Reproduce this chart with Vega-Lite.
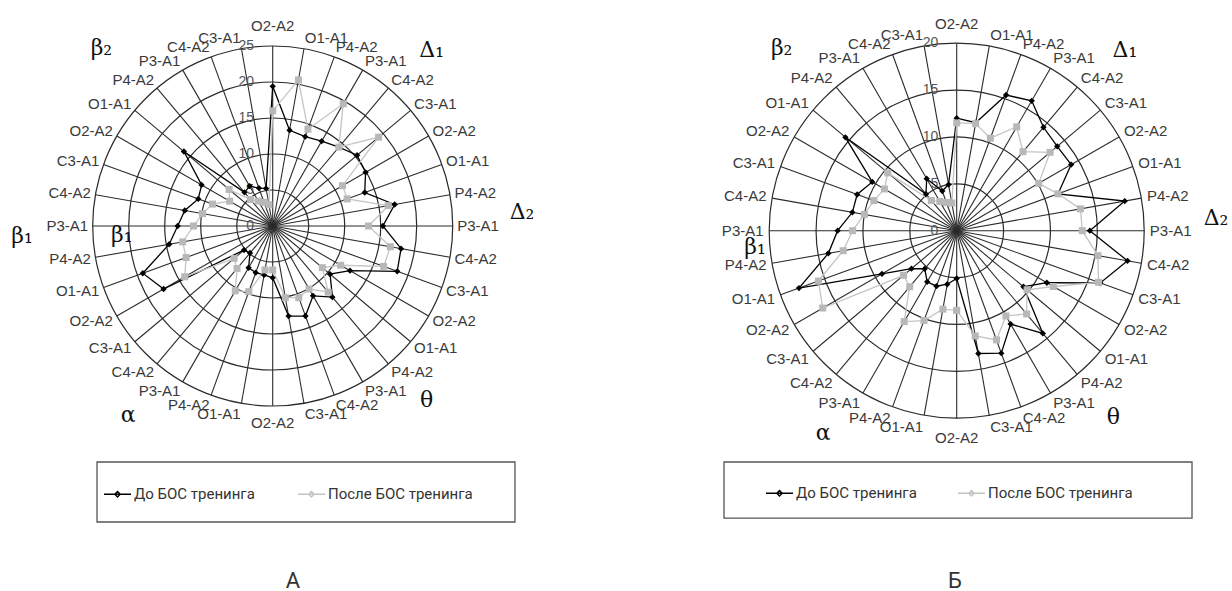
{
"$schema":"https://vega.github.io/schema/vega-lite/v6.json",
"background":"white",
"padding":0,
"spacing":0,
"config":{"view":{"stroke":null},"concat":{"spacing":0}},
"datasets":{
"spk":[{"i":0,"lab":"O2-A2"},{"i":1,"lab":"O1-A1"},{"i":2,"lab":"P4-A2"},{"i":3,"lab":"P3-A1"},{"i":4,"lab":"C4-A2"},{"i":5,"lab":"C3-A1"},{"i":6,"lab":"O2-A2"},{"i":7,"lab":"O1-A1"},{"i":8,"lab":"P4-A2"},{"i":9,"lab":"P3-A1"},{"i":10,"lab":"C4-A2"},{"i":11,"lab":"C3-A1"},{"i":12,"lab":"O2-A2"},{"i":13,"lab":"O1-A1"},{"i":14,"lab":"P4-A2"},{"i":15,"lab":"P3-A1"},{"i":16,"lab":"C4-A2"},{"i":17,"lab":"C3-A1"},{"i":18,"lab":"O2-A2"},{"i":19,"lab":"O1-A1"},{"i":20,"lab":"P4-A2"},{"i":21,"lab":"P3-A1"},{"i":22,"lab":"C4-A2"},{"i":23,"lab":"C3-A1"},{"i":24,"lab":"O2-A2"},{"i":25,"lab":"O1-A1"},{"i":26,"lab":"P4-A2"},{"i":27,"lab":"P3-A1"},{"i":28,"lab":"C4-A2"},{"i":29,"lab":"C3-A1"},{"i":30,"lab":"O2-A2"},{"i":31,"lab":"O1-A1"},{"i":32,"lab":"P4-A2"},{"i":33,"lab":"P3-A1"},{"i":34,"lab":"C4-A2"},{"i":35,"lab":"C3-A1"}],
"A":[{"i":0,"До БОС тренинга":19.4,"После БОС тренинга":16.0},{"i":1,"До БОС тренинга":13.5,"После БОС тренинга":20.6},{"i":2,"До БОС тренинга":13.2,"После БОС тренинга":14.3},{"i":3,"До БОС тренинга":13.6,"После БОС тренинга":19.6},{"i":4,"До БОС тренинга":14.3,"После БОС тренинга":14.3},{"i":5,"До БОС тренинга":15.3,"После БОС тренинга":19.2},{"i":6,"До БОС тренинга":14.9,"После БОС тренинга":11.2},{"i":7,"До БОС тренинга":13.6,"После БОС тренинга":11.0},{"i":8,"До БОС тренинга":17.2,"После БОС тренинга":16.3},{"i":9,"До БОС тренинга":15.3,"После БОС тренинга":13.3},{"i":10,"До БОС тренинга":18.1,"После БОС тренинга":16.6},{"i":11,"До БОС тренинга":18.4,"После БОС тренинга":16.4},{"i":12,"До БОС тренинга":12.4,"После БОС тренинга":10.9},{"i":13,"До БОС тренинга":10.4,"После БОС тренинга":9.0},{"i":14,"До БОС тренинга":12.9,"После БОС тренинга":12.0},{"i":15,"До БОС тренинга":11.2,"После БОС тренинга":10.1},{"i":16,"До БОС тренинга":13.3,"После БОС тренинга":10.6},{"i":17,"До БОС тренинга":12.7,"После БОС тренинга":10.1},{"i":18,"До БОС тренинга":7.2,"После БОС тренинга":6.1},{"i":19,"До БОС тренинга":6.9,"После БОС тренинга":6.2},{"i":20,"До БОС тренинга":6.9,"После БОС тренинга":9.7},{"i":21,"До БОС тренинга":6.7,"После БОС тренинга":10.4},{"i":22,"До БОС тренинга":4.9,"После БОС тренинга":7.7},{"i":23,"До БОС тренинга":5.2,"После БОС тренинга":7.0},{"i":24,"До БОС тренинга":17.5,"После БОС тренинга":14.1},{"i":25,"До БОС тренинга":19.2,"После БОС тренинга":12.8},{"i":26,"До БОС тренинга":14.6,"После БОС тренинга":12.7},{"i":27,"До БОС тренинга":13.2,"После БОС тренинга":11.0},{"i":28,"До БОС тренинга":12.4,"После БОС тренинга":9.9},{"i":29,"До БОС тренинга":11.0,"После БОС тренинга":8.9},{"i":30,"До БОС тренинга":11.4,"После БОС тренинга":6.9},{"i":31,"До БОС тренинга":16.1,"После БОС тренинга":7.9},{"i":32,"До БОС тренинга":6.1,"После БОС тренинга":4.8},{"i":33,"До БОС тренинга":6.4,"После БОС тренинга":4.0},{"i":34,"До БОС тренинга":5.6,"После БОС тренинга":3.5},{"i":35,"До БОС тренинга":5.3,"После БОС тренинга":3.0},{"i":36,"До БОС тренинга":19.4,"После БОС тренинга":16.0}],
"B":[{"i":0,"До БОС тренинга":12.0,"После БОС тренинга":11.5},{"i":1,"До БОС тренинга":11.7,"После БОС тренинга":11.6},{"i":2,"До БОС тренинга":15.4,"После БОС тренинга":10.5},{"i":3,"До БОС тренинга":16.0,"После БОС тренинга":12.8},{"i":4,"До БОС тренинга":14.4,"После БОС тренинга":11.0},{"i":5,"До БОС тренинга":14.0,"После БОС тренинга":13.0},{"i":6,"До БОС тренинга":14.1,"После БОС тренинга":10.1},{"i":7,"До БОС тренинга":11.5,"После БОС тренинга":11.5},{"i":8,"До БОС тренинга":18.2,"После БОС тренинга":13.4},{"i":9,"До БОС тренинга":14.2,"После БОС тренинга":13.4},{"i":10,"До БОС тренинга":18.5,"После БОС тренинга":15.3},{"i":11,"До БОС тренинга":16.3,"После БОС тренинга":16.1},{"i":12,"До БОС тренинга":11.1,"После БОС тренинга":11.9},{"i":13,"До БОС тренинга":9.3,"После БОС тренинга":9.8},{"i":14,"До БОС тренинга":14.3,"После БОС тренинга":11.6},{"i":15,"До БОС тренинга":11.5,"После БОС тренинга":10.5},{"i":16,"До БОС тренинга":13.9,"После БОС тренинга":12.4},{"i":17,"До БОС тренинга":13.3,"После БОС тренинга":11.4},{"i":18,"До БОС тренинга":5.1,"После БОС тренинга":8.5},{"i":19,"До БОС тренинга":5.8,"После БОС тренинга":8.5},{"i":20,"До БОС тренинга":6.3,"После БОС тренинга":10.2},{"i":21,"До БОС тренинга":6.3,"После БОС тренинга":11.2},{"i":22,"До БОС тренинга":5.3,"После БОС тренинга":7.8},{"i":23,"До БОС тренинга":6.3,"После БОС тренинга":7.4},{"i":24,"До БОС тренинга":9.2,"После БОС тренинга":16.5},{"i":25,"До БОС тренинга":17.9,"После БОС тренинга":15.7},{"i":26,"До БОС тренинга":13.9,"После БОС тренинга":12.3},{"i":27,"До БОС тренинга":12.7,"После БОС тренинга":11.1},{"i":28,"До БОС тренинга":11.3,"После БОС тренинга":10.0},{"i":29,"До БОС тренинга":11.3,"После БОС тренинга":9.4},{"i":30,"До БОС тренинга":10.4,"После БОС тренинга":8.9},{"i":31,"До БОС тренинга":15.5,"После БОС тренинга":9.6},{"i":32,"До БОС тренинга":5.1,"После БОС тренинга":4.2},{"i":33,"До БОС тренинга":6.4,"После БОС тренинга":3.6},{"i":34,"До БОС тренинга":4.5,"После БОС тренинга":3.2},{"i":35,"До БОС тренинга":5.0,"После БОС тренинга":3.0},{"i":36,"До БОС тренинга":12.0,"После БОС тренинга":11.5}]
},
"resolve":{"scale":{"color":"independent","stroke":"independent","shape":"independent","size":"independent"},"legend":{"color":"independent","stroke":"independent","shape":"independent","size":"independent"}},
"hconcat":[
{
"width":600,"height":591,
"layer":[
{"data":{"values":[{"r":5},{"r":10},{"r":15},{"r":20},{"r":25}]},
 "mark":{"type":"point","shape":"circle","filled":false,"stroke":"#2b2b2b","strokeWidth":1.2,"opacity":1},
 "encoding":{"x":{"datum":0,"type":"quantitative","scale":{"domain":[-37.875,45.458],"nice":false,"zero":false},"axis":null},
  "y":{"datum":0,"type":"quantitative","scale":{"domain":[-50.694,31.389],"nice":false,"zero":false},"axis":null},
  "size":{"field":"r","type":"quantitative","scale":{"type":"pow","exponent":2,"domain":[0,25],"range":[0,129600]},"legend":null}}},
{"data":{"name":"spk"},
 "transform":[{"calculate":"0","as":"x0"},{"calculate":"25*sin(datum.i*PI/18)","as":"x2"},{"calculate":"25*cos(datum.i*PI/18)","as":"y2"}],
 "mark":{"type":"rule","stroke":"#2b2b2b","strokeWidth":1.1},
 "encoding":{"x":{"field":"x0","type":"quantitative","scale":{"domain":[-37.875,45.458],"nice":false,"zero":false},"axis":null},
  "y":{"field":"x0","type":"quantitative","scale":{"domain":[-50.694,31.389],"nice":false,"zero":false},"axis":null},
  "x2":{"field":"x2"},"y2":{"field":"y2"}}},
{"data":{"values":[{"r":0},{"r":5},{"r":10},{"r":15},{"r":20},{"r":25}]},
 "mark":{"type":"text","align":"right","baseline":"middle","font":"Liberation Sans","fontSize":14,"color":"#555555"},
 "encoding":{"x":{"datum":-2.6,"type":"quantitative","scale":{"domain":[-37.875,45.458],"nice":false,"zero":false},"axis":null},
  "y":{"field":"r","type":"quantitative","scale":{"domain":[-50.694,31.389],"nice":false,"zero":false},"axis":null},
  "text":{"field":"r"}}},
{"data":{"values":[{}]},
 "mark":{"type":"rect","fill":"transparent","stroke":"#555555","strokeWidth":1.3},
 "encoding":{"x":{"datum":-24.4,"type":"quantitative","scale":{"domain":[-37.875,45.458],"nice":false,"zero":false},"axis":null},
  "x2":{"datum":33.65},
  "y":{"datum":-32.78,"type":"quantitative","scale":{"domain":[-50.694,31.389],"nice":false,"zero":false},"axis":null},
  "y2":{"datum":-41.11}}},
{"data":{"name":"A"},
 "transform":[{"fold":["До БОС тренинга","После БОС тренинга"],"as":["s","v"]},{"calculate":"datum.v*sin(datum.i*PI/18)","as":"x"},{"calculate":"datum.v*cos(datum.i*PI/18)","as":"y"}],
 "mark":{"type":"line","strokeWidth":1.3},
 "encoding":{"x":{"field":"x","type":"quantitative","scale":{"domain":[-37.875,45.458],"nice":false,"zero":false},"axis":null},
  "y":{"field":"y","type":"quantitative","scale":{"domain":[-50.694,31.389],"nice":false,"zero":false},"axis":null},
  "stroke":{"field":"s","type":"nominal","scale":{"domain":["До БОС тренинга","После БОС тренинга"],"range":["#000000","#c4c4c4"]},"legend":{"orient":"none","legendX":103,"legendY":479.5,"zindex":2,"direction":"horizontal","title":null,"symbolType":"M-1,0L1,0M0,-0.2L0.2,0L0,0.2L-0.2,0Z","symbolSize":729,"symbolStrokeWidth":1.4,"labelFont":"Roboto","labelFontSize":15,"labelColor":"#333333","labelOffset":2,"columnPadding":40,"padding":0}},
  "order":{"field":"i","type":"quantitative"}}},
{"data":{"name":"A"},
 "transform":[{"fold":["До БОС тренинга","После БОС тренинга"],"as":["s","v"]},{"filter":"datum.i<36 && datum.s=='До БОС тренинга'"},{"calculate":"datum.v*sin(datum.i*PI/18)","as":"x"},{"calculate":"datum.v*cos(datum.i*PI/18)","as":"y"}],
 "mark":{"type":"point","filled":true,"shape":"diamond","size":40,"fill":"#000000","opacity":1},
 "encoding":{"x":{"field":"x","type":"quantitative","scale":{"domain":[-37.875,45.458],"nice":false,"zero":false},"axis":null},
  "y":{"field":"y","type":"quantitative","scale":{"domain":[-50.694,31.389],"nice":false,"zero":false},"axis":null}}},
{"data":{"name":"A"},
 "transform":[{"fold":["До БОС тренинга","После БОС тренинга"],"as":["s","v"]},{"filter":"datum.i<36 && datum.s=='После БОС тренинга'"},{"calculate":"datum.v*sin(datum.i*PI/18)","as":"x"},{"calculate":"datum.v*cos(datum.i*PI/18)","as":"y"}],
 "mark":{"type":"point","filled":true,"shape":"square","size":49,"fill":"#b8b8b8","opacity":1},
 "encoding":{"x":{"field":"x","type":"quantitative","scale":{"domain":[-37.875,45.458],"nice":false,"zero":false},"axis":null},
  "y":{"field":"y","type":"quantitative","scale":{"domain":[-50.694,31.389],"nice":false,"zero":false},"axis":null}}},
{"data":{"name":"spk"},
 "transform":[{"filter":"datum.i>0 && datum.i<18"},{"calculate":"25.63*sin(datum.i*PI/18)","as":"x"},{"calculate":"26.46*cos(datum.i*PI/18)","as":"y"}],
 "mark":{"type":"text","align":"left","baseline":"middle","font":"Liberation Sans","fontSize":15,"color":"#3a3a3a"},
 "encoding":{"x":{"field":"x","type":"quantitative","scale":{"domain":[-37.875,45.458],"nice":false,"zero":false},"axis":null},
  "y":{"field":"y","type":"quantitative","scale":{"domain":[-50.694,31.389],"nice":false,"zero":false},"axis":null},
  "text":{"field":"lab"}}},
{"data":{"name":"spk"},
 "transform":[{"filter":"datum.i>18"},{"calculate":"25.63*sin(datum.i*PI/18)","as":"x"},{"calculate":"26.46*cos(datum.i*PI/18)","as":"y"}],
 "mark":{"type":"text","align":"right","baseline":"middle","font":"Liberation Sans","fontSize":15,"color":"#3a3a3a"},
 "encoding":{"x":{"field":"x","type":"quantitative","scale":{"domain":[-37.875,45.458],"nice":false,"zero":false},"axis":null},
  "y":{"field":"y","type":"quantitative","scale":{"domain":[-50.694,31.389],"nice":false,"zero":false},"axis":null},
  "text":{"field":"lab"}}},
{"data":{"name":"spk"},
 "transform":[{"filter":"datum.i==0"}],
 "mark":{"type":"text","align":"center","baseline":"alphabetic","font":"Liberation Sans","fontSize":15,"color":"#3a3a3a"},
 "encoding":{"x":{"datum":0,"type":"quantitative","scale":{"domain":[-37.875,45.458],"nice":false,"zero":false},"axis":null},
  "y":{"datum":27.08,"type":"quantitative","scale":{"domain":[-50.694,31.389],"nice":false,"zero":false},"axis":null},
  "text":{"field":"lab"}}},
{"data":{"name":"spk"},
 "transform":[{"filter":"datum.i==18"}],
 "mark":{"type":"text","align":"center","baseline":"top","font":"Liberation Sans","fontSize":15,"color":"#3a3a3a"},
 "encoding":{"x":{"datum":0,"type":"quantitative","scale":{"domain":[-37.875,45.458],"nice":false,"zero":false},"axis":null},
  "y":{"datum":-26.39,"type":"quantitative","scale":{"domain":[-50.694,31.389],"nice":false,"zero":false},"axis":null},
  "text":{"field":"lab"}}},
{"data":{"values":[{"t":"β₂","bx":-23.79,"by":24.68},{"t":"Δ₁","bx":22.08,"by":24.44},{"t":"Δ₂","bx":34.63,"by":1.94},{"t":"θ","bx":21.39,"by":-24.17},{"t":"α","bx":-20.06,"by":-26.25},{"t":"β₁","bx":-34.82,"by":-1.39},{"t":"β₁","bx":-20.97,"by":-1.25}]},
 "mark":{"type":"text","align":"center","baseline":"middle","font":"DejaVu Serif","fontSize":22,"color":"#111111"},
 "encoding":{"x":{"field":"bx","type":"quantitative","scale":{"domain":[-37.875,45.458],"nice":false,"zero":false},"axis":null},
  "y":{"field":"by","type":"quantitative","scale":{"domain":[-50.694,31.389],"nice":false,"zero":false},"axis":null},
  "text":{"field":"t"}}},
{"data":{"values":[{"t":"А"}]},
 "mark":{"type":"text","align":"center","baseline":"middle","font":"Roboto","fontSize":22,"color":"#333333"},
 "encoding":{"x":{"datum":2.82,"type":"quantitative","scale":{"domain":[-37.875,45.458],"nice":false,"zero":false},"axis":null},
  "y":{"datum":-49.3,"type":"quantitative","scale":{"domain":[-50.694,31.389],"nice":false,"zero":false},"axis":null},
  "text":{"field":"t"}}}
]},
{
"width":632,"height":591,
"layer":[
{"data":{"values":[{"r":5},{"r":10},{"r":15},{"r":20}]},
 "mark":{"type":"point","shape":"circle","filled":false,"stroke":"#2b2b2b","strokeWidth":1.2,"opacity":1},
 "encoding":{"x":{"datum":0,"type":"quantitative","scale":{"domain":[-38.048,29.365],"nice":false,"zero":false},"axis":null},
  "y":{"datum":0,"type":"quantitative","scale":{"domain":[-38.432,24.608],"nice":false,"zero":false},"axis":null},
  "size":{"field":"r","type":"quantitative","scale":{"type":"pow","exponent":2,"domain":[0,20],"range":[0,140625]},"legend":null}}},
{"data":{"name":"spk"},
 "transform":[{"calculate":"0","as":"x0"},{"calculate":"20*sin(datum.i*PI/18)","as":"x2"},{"calculate":"20*cos(datum.i*PI/18)","as":"y2"}],
 "mark":{"type":"rule","stroke":"#2b2b2b","strokeWidth":1.1},
 "encoding":{"x":{"field":"x0","type":"quantitative","scale":{"domain":[-38.048,29.365],"nice":false,"zero":false},"axis":null},
  "y":{"field":"x0","type":"quantitative","scale":{"domain":[-38.432,24.608],"nice":false,"zero":false},"axis":null},
  "x2":{"field":"x2"},"y2":{"field":"y2"}}},
{"data":{"values":[{"r":0},{"r":5},{"r":10},{"r":15},{"r":20}]},
 "mark":{"type":"text","align":"right","baseline":"middle","font":"Liberation Sans","fontSize":14,"color":"#555555"},
 "encoding":{"x":{"datum":-1.96,"type":"quantitative","scale":{"domain":[-38.048,29.365],"nice":false,"zero":false},"axis":null},
  "y":{"field":"r","type":"quantitative","scale":{"domain":[-38.432,24.608],"nice":false,"zero":false},"axis":null},
  "text":{"field":"r"}}},
{"data":{"values":[{}]},
 "mark":{"type":"rect","fill":"transparent","stroke":"#555555","strokeWidth":1.3},
 "encoding":{"x":{"datum":-24.82,"type":"quantitative","scale":{"domain":[-38.048,29.365],"nice":false,"zero":false},"axis":null},
  "x2":{"datum":25.1},
  "y":{"datum":-24.67,"type":"quantitative","scale":{"domain":[-38.432,24.608],"nice":false,"zero":false},"axis":null},
  "y2":{"datum":-30.65}}},
{"data":{"name":"B"},
 "transform":[{"fold":["До БОС тренинга","После БОС тренинга"],"as":["s","v"]},{"calculate":"datum.v*sin(datum.i*PI/18)","as":"x"},{"calculate":"datum.v*cos(datum.i*PI/18)","as":"y"}],
 "mark":{"type":"line","strokeWidth":1.3},
 "encoding":{"x":{"field":"x","type":"quantitative","scale":{"domain":[-38.048,29.365],"nice":false,"zero":false},"axis":null},
  "y":{"field":"y","type":"quantitative","scale":{"domain":[-38.432,24.608],"nice":false,"zero":false},"axis":null},
  "stroke":{"field":"s","type":"nominal","scale":{"domain":["До БОС тренинга","После БОС тренинга"],"range":["#000000","#c4c4c4"]},"legend":{"orient":"none","legendX":165,"legendY":478.5,"zindex":2,"direction":"horizontal","title":null,"symbolType":"M-1,0L1,0M0,-0.2L0.2,0L0,0.2L-0.2,0Z","symbolSize":729,"symbolStrokeWidth":1.4,"labelFont":"Roboto","labelFontSize":15,"labelColor":"#333333","labelOffset":2,"columnPadding":38,"padding":0}},
  "order":{"field":"i","type":"quantitative"}}},
{"data":{"name":"B"},
 "transform":[{"fold":["До БОС тренинга","После БОС тренинга"],"as":["s","v"]},{"filter":"datum.i<36 && datum.s=='До БОС тренинга'"},{"calculate":"datum.v*sin(datum.i*PI/18)","as":"x"},{"calculate":"datum.v*cos(datum.i*PI/18)","as":"y"}],
 "mark":{"type":"point","filled":true,"shape":"diamond","size":40,"fill":"#000000","opacity":1},
 "encoding":{"x":{"field":"x","type":"quantitative","scale":{"domain":[-38.048,29.365],"nice":false,"zero":false},"axis":null},
  "y":{"field":"y","type":"quantitative","scale":{"domain":[-38.432,24.608],"nice":false,"zero":false},"axis":null}}},
{"data":{"name":"B"},
 "transform":[{"fold":["До БОС тренинга","После БОС тренинга"],"as":["s","v"]},{"filter":"datum.i<36 && datum.s=='После БОС тренинга'"},{"calculate":"datum.v*sin(datum.i*PI/18)","as":"x"},{"calculate":"datum.v*cos(datum.i*PI/18)","as":"y"}],
 "mark":{"type":"point","filled":true,"shape":"square","size":49,"fill":"#b8b8b8","opacity":1},
 "encoding":{"x":{"field":"x","type":"quantitative","scale":{"domain":[-38.048,29.365],"nice":false,"zero":false},"axis":null},
  "y":{"field":"y","type":"quantitative","scale":{"domain":[-38.432,24.608],"nice":false,"zero":false},"axis":null}}},
{"data":{"name":"spk"},
 "transform":[{"filter":"datum.i>0 && datum.i<18"},{"calculate":"20.6*sin(datum.i*PI/18)","as":"x"},{"calculate":"21.24*cos(datum.i*PI/18)","as":"y"}],
 "mark":{"type":"text","align":"left","baseline":"middle","font":"Liberation Sans","fontSize":15,"color":"#3a3a3a"},
 "encoding":{"x":{"field":"x","type":"quantitative","scale":{"domain":[-38.048,29.365],"nice":false,"zero":false},"axis":null},
  "y":{"field":"y","type":"quantitative","scale":{"domain":[-38.432,24.608],"nice":false,"zero":false},"axis":null},
  "text":{"field":"lab"}}},
{"data":{"name":"spk"},
 "transform":[{"filter":"datum.i>18"},{"calculate":"20.6*sin(datum.i*PI/18)","as":"x"},{"calculate":"21.24*cos(datum.i*PI/18)","as":"y"}],
 "mark":{"type":"text","align":"right","baseline":"middle","font":"Liberation Sans","fontSize":15,"color":"#3a3a3a"},
 "encoding":{"x":{"field":"x","type":"quantitative","scale":{"domain":[-38.048,29.365],"nice":false,"zero":false},"axis":null},
  "y":{"field":"y","type":"quantitative","scale":{"domain":[-38.432,24.608],"nice":false,"zero":false},"axis":null},
  "text":{"field":"lab"}}},
{"data":{"name":"spk"},
 "transform":[{"filter":"datum.i==0"}],
 "mark":{"type":"text","align":"center","baseline":"alphabetic","font":"Liberation Sans","fontSize":15,"color":"#3a3a3a"},
 "encoding":{"x":{"datum":0,"type":"quantitative","scale":{"domain":[-38.048,29.365],"nice":false,"zero":false},"axis":null},
  "y":{"datum":21.5,"type":"quantitative","scale":{"domain":[-38.432,24.608],"nice":false,"zero":false},"axis":null},
  "text":{"field":"lab"}}},
{"data":{"name":"spk"},
 "transform":[{"filter":"datum.i==18"}],
 "mark":{"type":"text","align":"center","baseline":"top","font":"Liberation Sans","fontSize":15,"color":"#3a3a3a"},
 "encoding":{"x":{"datum":0,"type":"quantitative","scale":{"domain":[-38.048,29.365],"nice":false,"zero":false},"axis":null},
  "y":{"datum":-21.37,"type":"quantitative","scale":{"domain":[-38.432,24.608],"nice":false,"zero":false},"axis":null},
  "text":{"field":"lab"}}},
{"data":{"values":[{"t":"β₂","bx":-18.67,"by":19.46},{"t":"Δ₁","bx":17.95,"by":19.28},{"t":"Δ₂","bx":27.66,"by":1.35},{"t":"θ","bx":16.7,"by":-19.84},{"t":"α","bx":-14.23,"by":-21.61},{"t":"β₁","bx":-21.5,"by":-1.75}]},
 "mark":{"type":"text","align":"center","baseline":"middle","font":"DejaVu Serif","fontSize":22,"color":"#111111"},
 "encoding":{"x":{"field":"bx","type":"quantitative","scale":{"domain":[-38.048,29.365],"nice":false,"zero":false},"axis":null},
  "y":{"field":"by","type":"quantitative","scale":{"domain":[-38.432,24.608],"nice":false,"zero":false},"axis":null},
  "text":{"field":"t"}}},
{"data":{"values":[{"t":"Б"}]},
 "mark":{"type":"text","align":"center","baseline":"middle","font":"Roboto","fontSize":22,"color":"#333333"},
 "encoding":{"x":{"datum":-0.18,"type":"quantitative","scale":{"domain":[-38.048,29.365],"nice":false,"zero":false},"axis":null},
  "y":{"datum":-37.37,"type":"quantitative","scale":{"domain":[-38.432,24.608],"nice":false,"zero":false},"axis":null},
  "text":{"field":"t"}}}
]}
]
}
